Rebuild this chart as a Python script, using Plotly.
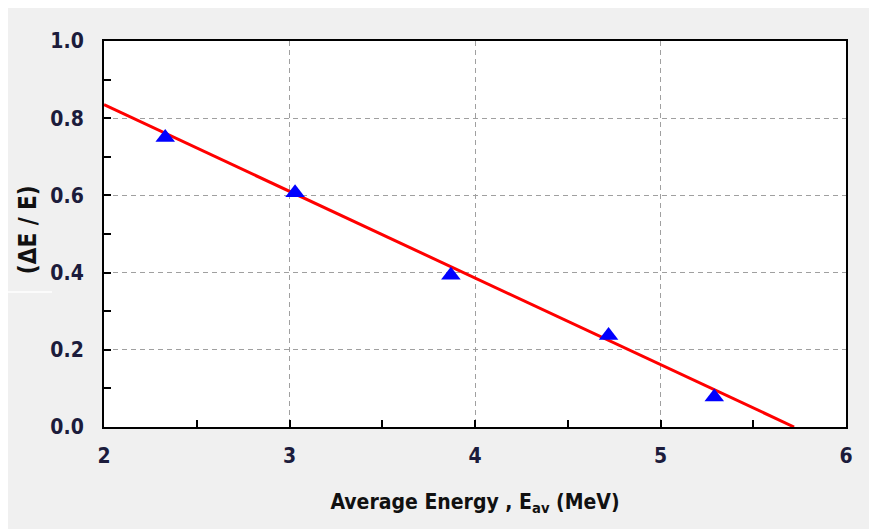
import plotly.graph_objects as go

# data points (Average energy MeV, ΔE/E)
energy = [2.33, 3.03, 3.87, 4.72, 5.29]
ratio = [0.750, 0.607, 0.393, 0.237, 0.078]

# fitted line endpoints
fit_x = [2.0, 5.72]
fit_y = [0.835, 0.0]

x_ticks = [2, 3, 4, 5, 6]
y_ticks = [0.0, 0.2, 0.4, 0.6, 0.8, 1.0]
y_labels = ["0.0", "0.2", "0.4", "0.6", "0.8", "1.0"]

x_title = "Average Energy , E<sub>av</sub> (MeV)"
y_title = "(ΔE / E)"

font_fam = "DejaVu Sans Condensed, Liberation Sans Narrow, Arial Narrow, sans-serif"

fig = go.Figure()
fig.add_trace(go.Scatter(x=fit_x, y=fit_y, mode="lines",
                         line=dict(color="#ff0000", width=3), showlegend=False))
fig.add_trace(go.Scatter(x=energy, y=ratio, mode="markers",
                         marker=dict(symbol="triangle-up", size=17, color="#0000ff"),
                         showlegend=False))

axis_common = dict(
    showline=True, linecolor="black", linewidth=2, mirror=True,
    ticks="inside", ticklen=7, tickwidth=1.5, tickcolor="black",
    showgrid=True, gridcolor="#a0a0a0", gridwidth=1.3, griddash="5px,4px",
    zeroline=False, automargin=False,
    tickfont=dict(family=font_fam, size=21, color="#1c1c3c", weight="bold"),
)

fig.update_xaxes(range=[2, 6], tickvals=x_ticks, ticktext=[str(v) for v in x_ticks],
                 minor=dict(dtick=0.5, ticks="inside", ticklen=7, tickcolor="black", showgrid=False),
                 title=dict(text=x_title,
                            font=dict(family=font_fam, size=21, color="#111", weight="bold"), standoff=27),
                 ticklabelstandoff=9,
                 **axis_common)
fig.update_yaxes(range=[0, 1.0], tickvals=y_ticks, ticktext=y_labels,
                 minor=dict(dtick=0.1, ticks="inside", ticklen=7, tickcolor="black", showgrid=False),
                 ticklabelstandoff=14,
                 **axis_common)

fig.update_layout(
    width=877, height=529,
    margin=dict(l=96, r=39, t=33, b=110),
    paper_bgcolor="#f0f0f0", plot_bgcolor="white",
    font=dict(family=font_fam),
)

fig.add_annotation(text=y_title, textangle=-90, xref="paper", yref="paper",
                   x=(20 - 96) / 742, y=0.51, xanchor="center", yanchor="middle",
                   showarrow=False,
                   font=dict(family=font_fam, size=24, color="#111", weight="bold"))

# thin white mark at the left edge
fig.add_shape(type="line", xref="paper", yref="paper", x0=-96/742, x1=-52/742,
              y0=(427 - 292) / 386, y1=(427 - 292) / 386,
              line=dict(color="white", width=1.5), layer="below")

fig.write_html("out.html")
